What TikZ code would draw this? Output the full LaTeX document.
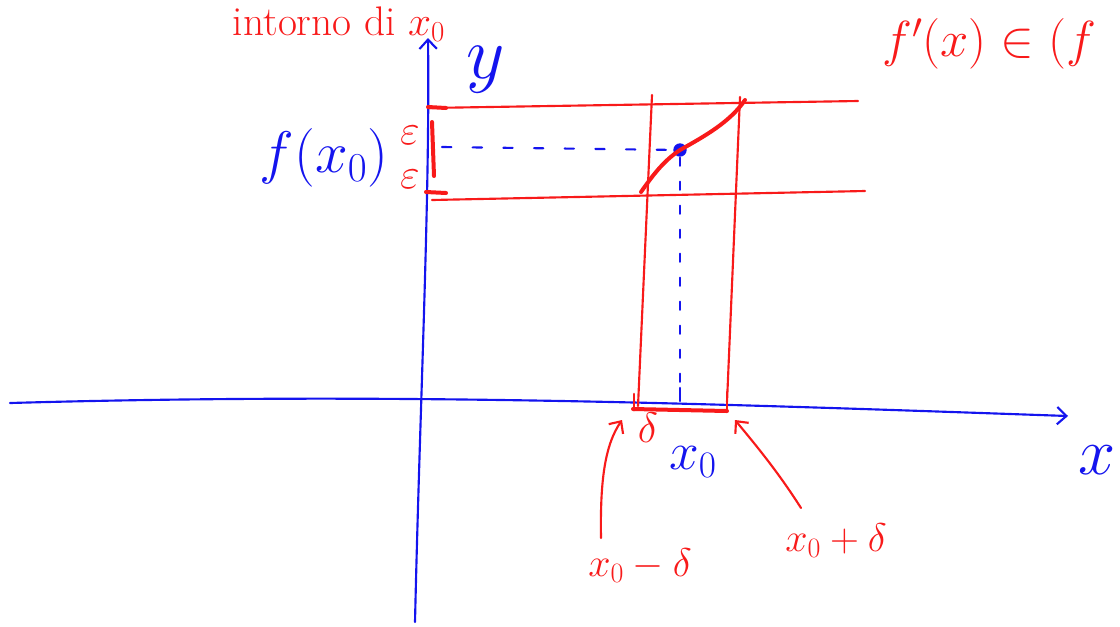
\documentclass[tikz,border=0pt]{standalone}
\usepackage{fix-cm}
\usetikzlibrary{arrows.meta}

\definecolor{penred}{HTML}{F81A1A}
\definecolor{penblue}{HTML}{1414EE}

\begin{document}
\begin{tikzpicture}[x=0.75pt, y=-0.75pt, line width=1.6pt, line cap=round, line join=round,
    every node/.style={inner sep=1pt},
    redpen/.style={draw=penred},
    bluepen/.style={draw=penblue},
    barb/.style={-{Straight Barb[length=7pt,width=13pt]}},
    redtext/.style={text=penred, font=\fontsize{30}{34}\selectfont},
    bluetext/.style={text=penblue, font=\fontsize{40}{44}\selectfont}]
  \useasboundingbox (0,0) rectangle (1120,626);

  % Axes, drawn by hand with a slight wobble.
  \coordinate (xstart) at (10,403);
  \coordinate (xend) at (1068,416);
  \coordinate (ystart) at (415,622);
  \coordinate (yend) at (428,38);
  \draw[bluepen, barb] (xstart) .. controls (400,392) and (720,404) .. (xend);
  \draw[bluepen, barb] (ystart) .. controls (420,400) and (430,200) .. (yend);
  \node[bluetext, font=\fontsize{50}{54}\selectfont] (xlab) at (1097,460) {$x$};
  \node[bluetext, font=\fontsize{56}{60}\selectfont] (ylab) at (486,70) {$y$};

  % The band around f(x0) and the strip around x0.
  \coordinate (bandTL) at (428,108);
  \coordinate (bandTR) at (858,101);
  \coordinate (bandBL) at (432,200);
  \coordinate (bandBR) at (865,191);
  \coordinate (stripLT) at (652,95);
  \coordinate (stripLB) at (638,406);
  \coordinate (stripRT) at (740,97);
  \coordinate (stripRB) at (727,402);
  \draw[redpen] (bandTL) -- (bandTR);
  \draw[redpen] (bandBL) -- (bandBR);
  \draw[redpen] (stripLT) -- (stripLB);
  \draw[redpen] (stripRT) -- (stripRB);

  % Marks on the axes.
  \draw[redpen, line width=3pt] (428,107) -- (446,108);
  \draw[redpen, line width=3pt] (426,192) -- (446,193);
  \draw[redpen, line width=3pt] (432,122) -- (434,176);
  \draw[redpen, line width=3pt] (633,409) -- (727,411);
  \draw[redpen, line width=2pt] (634,394) -- (634,410);
  \draw[redpen, line width=2pt] (727,392) -- (727,410);
  \coordinate (xtick) at (680,388);
  \draw[bluepen, line width=2pt] (xtick) -- (680,401);

  % The graph through (x0, f(x0)).
  \node[circle, fill=penblue, inner sep=0pt, minimum size=10pt] (pt) at (680,150) {};
  \draw[redpen, line width=3pt] (641,192) .. controls (655,172) and (665,160) .. (pt.center)
    .. controls (705,136) and (730,122) .. (745,100);
  \coordinate (fy) at (442,147);
  \draw[bluepen, dash pattern=on 7pt off 16pt] (fy) -- (pt);
  \draw[bluepen, dash pattern=on 6pt off 12pt] (pt) -- (xtick);

  % Labels.
  \node[bluetext, font=\fontsize{44}{48}\selectfont] (fx0) at (324,158) {$f(x_0)$};
  \node[redtext, font=\fontsize{32}{36}\selectfont] (epsup) at (410,135) {$\varepsilon$};
  \node[redtext, font=\fontsize{32}{36}\selectfont] (epsdown) at (410,179) {$\varepsilon$};
  \node[redtext, font=\fontsize{32}{36}\selectfont] (delta) at (648,428) {$\delta$};
  \node[bluetext] (x0) at (693,462) {$x_0$};
  \node[redtext, font=\fontsize{31}{35}\selectfont] (intorno) at (339,24) {intorno di $x_0$};
  \node[redtext, font=\fontsize{38}{42}\selectfont, anchor=west] (deriv) at (880,44) {$f'(x)\in(f$};

  \node[redtext] (xminus) at (640,566) {$x_0-\delta$};
  \node[redtext] (xplus) at (836,541) {$x_0+\delta$};
  \coordinate (minusfoot) at (601,538);
  \coordinate (plusfoot) at (801,508);
  \coordinate (leftend) at (622,420);
  \coordinate (rightend) at (735,420);
  \draw[redpen, barb] (minusfoot) .. controls (600,480) and (605,445) .. (leftend);
  \draw[redpen, barb] (plusfoot) .. controls (780,475) and (760,450) .. (rightend);
\end{tikzpicture}
\end{document}
